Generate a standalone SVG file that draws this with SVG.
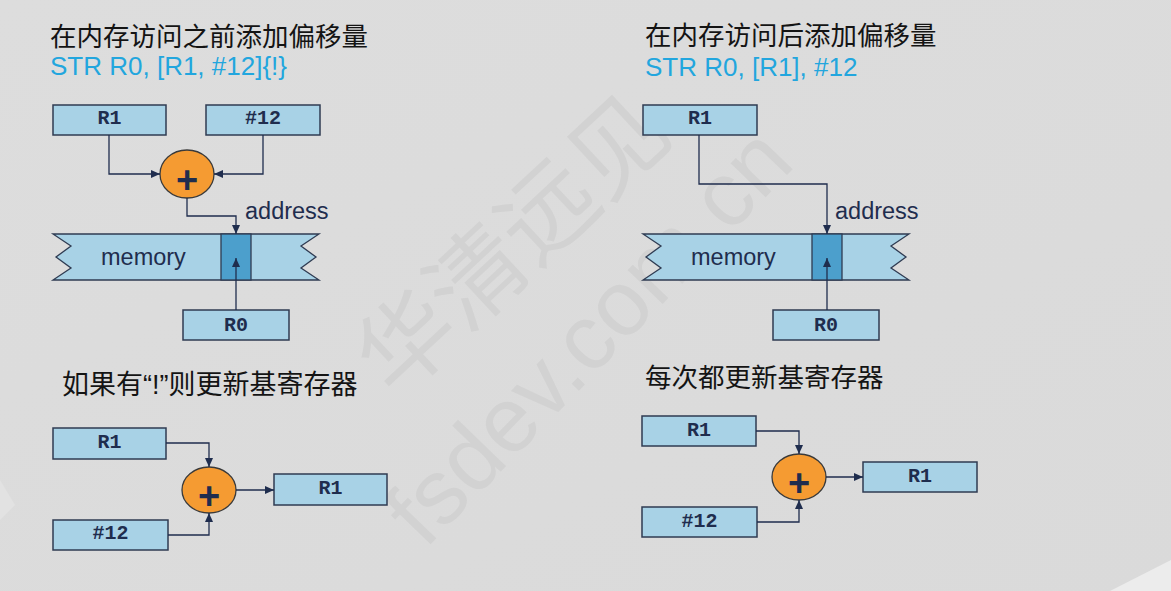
<svg xmlns="http://www.w3.org/2000/svg" width="1171" height="591" viewBox="0 0 1171 591">
<defs>
<marker id="ah" markerUnits="userSpaceOnUse" markerWidth="9" markerHeight="8" refX="9" refY="4" orient="auto">
<path d="M0,0 L9,4 L0,8 z" fill="#1f2d4e"/>
</marker>
<linearGradient id="bg" x1="0" y1="0" x2="1" y2="1">
<stop offset="0" stop-color="#dddddd"/>
<stop offset="1" stop-color="#dadada"/>
</linearGradient>
</defs>
<style>
.title{font-family:"Liberation Sans","Noto Sans CJK SC",sans-serif;font-size:26.5px;fill:#141414}
.code{font-family:"Liberation Sans",Arial,sans-serif;font-size:26px;fill:#22a6de}
.box{fill:#a8d2e6;stroke:#2f3b52;stroke-width:1.5}
.reg{font-family:"Liberation Mono","Courier New",monospace;font-weight:bold;font-size:20px;fill:#1f2d4e;text-anchor:middle}
.add{fill:#f59b32;stroke:#3a3a3a;stroke-width:1.3}
.plus{font-family:"Liberation Sans",Arial,sans-serif;font-weight:bold;font-size:38px;fill:#1f2d4e;text-anchor:middle}
.mem{fill:#a8d2e6;stroke:#2f3b52;stroke-width:1.3}
.cell{fill:#4c9fcc;stroke:#2f3b52;stroke-width:1.3}
.lbl{font-family:"Liberation Sans",Arial,sans-serif;font-size:23.5px;fill:#1f2d4e}
.wire{fill:none;stroke:#1f2d4e;stroke-width:1.3;marker-end:url(#ah)}
.wm{fill:#d2d2d2}
</style>
<rect x="0" y="0" width="1171" height="591" fill="url(#bg)"/>
<polygon points="1110,591 1171,560 1171,591" fill="#ececec"/>
<polygon points="0,480 15,505 0,520" fill="#e2e2e2"/>

<!-- watermark -->
<g id="watermark">
<text class="wm" font-family="Noto Sans CJK SC, sans-serif" font-size="96" transform="translate(395,400) rotate(-43)">华清远见</text>
<text class="wm" font-family="Liberation Sans, sans-serif" font-size="92" transform="translate(425,550) rotate(-46)">fsdev.com.cn</text>
</g>

<!-- titles -->
<g id="title-left">
<text class="title" x="50" y="46">在内存访问之前添加偏移量</text>
<text class="code" x="50" y="75">STR R0, [R1, #12]{!}</text>
</g>
<g id="title-right">
<text class="title" x="645" y="45">在内存访问后添加偏移量</text>
<text class="code" x="645" y="76">STR R0, [R1], #12</text>
</g>
<g id="label-bl">
<text class="title" x="62" y="394" style="font-size:27px">如果有<tspan font-family="Liberation Sans">“!”</tspan>则更新基寄存器</text>
</g>
<g id="label-br">
<text class="title" x="645" y="387">每次都更新基寄存器</text>
</g>

<!-- top-left diagram -->
<g id="tl-r1"><rect class="box" x="53" y="105" width="113" height="30"/><text class="reg" x="109.5" y="124">R1</text></g>
<g id="tl-imm"><rect class="box" x="206" y="105" width="114" height="30"/><text class="reg" x="263" y="124">#12</text></g>
<g id="tl-add"><ellipse class="add" cx="187" cy="174" rx="27" ry="24"/><text class="plus" x="187" y="193">+</text></g>
<g id="tl-addr"><text class="lbl" x="245" y="219">address</text></g>
<g id="tl-mem">
<path class="mem" d="M53,234 H319 L301,246 L316,257 L301,268 L319,280 H53 L71,268 L56,257 L71,246 Z"/>
<rect class="cell" x="221" y="234" width="30" height="46"/>
<text class="lbl" x="101" y="265">memory</text>
</g>
<g id="tl-r0"><rect class="box" x="183" y="310" width="106" height="30"/><text class="reg" x="236" y="331">R0</text></g>

<!-- top-right diagram -->
<g id="tr-r1"><rect class="box" x="643" y="105" width="114" height="30"/><text class="reg" x="700" y="124">R1</text></g>
<g id="tr-addr"><text class="lbl" x="835" y="219">address</text></g>
<g id="tr-mem">
<path class="mem" d="M643,234 H909 L891,246 L906,257 L891,268 L909,280 H643 L661,268 L646,257 L661,246 Z"/>
<rect class="cell" x="812" y="234" width="30" height="46"/>
<text class="lbl" x="691" y="265">memory</text>
</g>
<g id="tr-r0"><rect class="box" x="773" y="310" width="106" height="30"/><text class="reg" x="826" y="331">R0</text></g>

<!-- bottom-left diagram -->
<g id="bl-r1"><rect class="box" x="53" y="428" width="113" height="31"/><text class="reg" x="109.5" y="448">R1</text></g>
<g id="bl-imm"><rect class="box" x="53" y="520" width="115" height="30"/><text class="reg" x="110.5" y="539">#12</text></g>
<g id="bl-add"><ellipse class="add" cx="209" cy="490" rx="27" ry="23"/><text class="plus" x="209" y="509">+</text></g>
<g id="bl-out"><rect class="box" x="274" y="474" width="113" height="31"/><text class="reg" x="330.5" y="494">R1</text></g>

<!-- bottom-right diagram -->
<g id="br-r1"><rect class="box" x="642" y="416" width="114" height="30"/><text class="reg" x="699" y="436">R1</text></g>
<g id="br-imm"><rect class="box" x="642" y="507" width="115" height="30"/><text class="reg" x="699.5" y="527">#12</text></g>
<g id="br-add"><ellipse class="add" cx="799" cy="477" rx="27" ry="23"/><text class="plus" x="799" y="496">+</text></g>
<g id="br-out"><rect class="box" x="863" y="462" width="114" height="30"/><text class="reg" x="920" y="482">R1</text></g>

<!-- connectors -->
<g id="connectors">
<path class="wire" d="M109,135 V174 H160"/>
<path class="wire" d="M263,135 V174 H214"/>
<path class="wire" d="M187,198 V216 H236 V234"/>
<path class="wire" d="M236,310 V258"/>
<path class="wire" d="M699,135 V184 H827 V234"/>
<path class="wire" d="M827,310 V258"/>
<path class="wire" d="M166,443 H209 V467"/>
<path class="wire" d="M168,535 H209 V513"/>
<path class="wire" d="M236,490 H274"/>
<path class="wire" d="M756,431 H799 V454"/>
<path class="wire" d="M757,522 H799 V500"/>
<path class="wire" d="M826,477 H863"/>
</g>
</svg>
